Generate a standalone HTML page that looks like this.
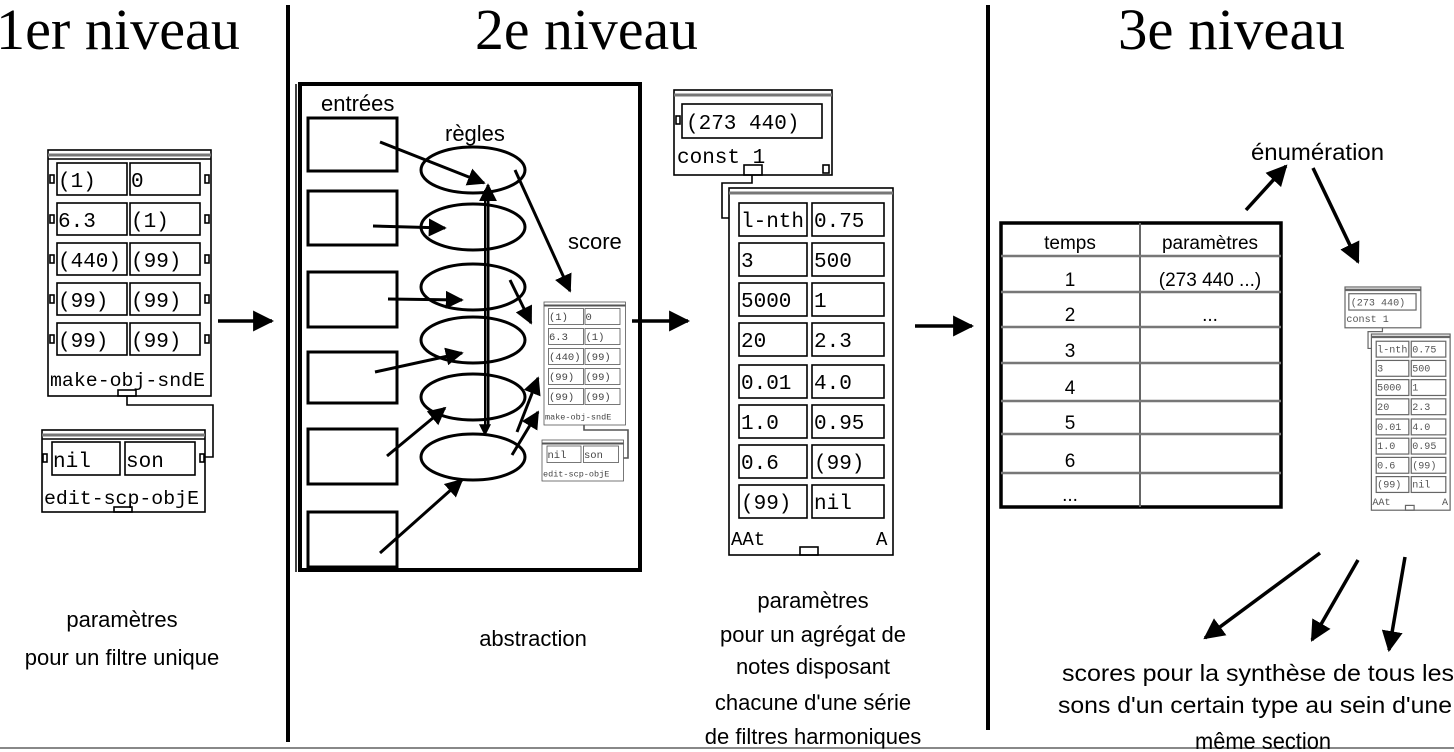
<!DOCTYPE html>
<html><head><meta charset="utf-8"><style>
html,body{margin:0;padding:0;background:#fff}
svg{display:block}
.m{font-family:"Liberation Mono",monospace;font-size:21px}
.s{font-family:"Liberation Sans","DejaVu Sans",sans-serif}
.t{font-family:"Liberation Serif",serif;font-size:58px}
</style></head><body>
<svg width="1454" height="752" viewBox="0 0 1454 752" xmlns="http://www.w3.org/2000/svg">
<defs>
<marker id="ah" viewBox="0 0 10 10" refX="9" refY="5" markerWidth="6" markerHeight="6" orient="auto" markerUnits="strokeWidth"><path d="M0,0 L10,5 L0,10 z" fill="#000"/></marker>
</defs>
<rect width="1454" height="752" fill="#fff"/>
<text x="-4" y="49" class="t" textLength="244" lengthAdjust="spacingAndGlyphs">1er niveau</text>
<text x="475" y="49" class="t" textLength="223" lengthAdjust="spacingAndGlyphs">2e niveau</text>
<text x="1118" y="49" class="t" textLength="227" lengthAdjust="spacingAndGlyphs">3e niveau</text>
<line x1="288" y1="5" x2="288" y2="742" stroke="#000" stroke-width="4"/>
<line x1="988" y1="5" x2="988" y2="730" stroke="#000" stroke-width="4"/>
<line x1="0" y1="748" x2="1454" y2="748" stroke="#888" stroke-width="2"/>

<g fill="none" stroke="#000" stroke-width="1.6">
 <g transform="translate(48,150)">
  <rect x="0" y="0" width="163" height="246" fill="#fff"/>
  <line x1="0" y1="5" x2="163" y2="5" stroke="#777" stroke-width="3"/>
  <line x1="0" y1="9" x2="163" y2="9"/>
  <rect x="9" y="13" width="70" height="32"/><rect x="82" y="13" width="70" height="32"/>
  <rect x="9" y="53" width="70" height="32"/><rect x="82" y="53" width="70" height="32"/>
  <rect x="9" y="93" width="70" height="32"/><rect x="82" y="93" width="70" height="32"/>
  <rect x="9" y="133" width="70" height="32"/><rect x="82" y="133" width="70" height="32"/>
  <rect x="9" y="173" width="70" height="32"/><rect x="82" y="173" width="70" height="32"/>
  <rect x="2" y="25" width="4" height="8"/><rect x="157" y="25" width="4" height="8"/>
  <rect x="2" y="65" width="4" height="8"/><rect x="157" y="65" width="4" height="8"/>
  <rect x="2" y="105" width="4" height="8"/><rect x="157" y="105" width="4" height="8"/>
  <rect x="2" y="145" width="4" height="8"/><rect x="157" y="145" width="4" height="8"/>
  <rect x="2" y="185" width="4" height="8"/><rect x="157" y="185" width="4" height="8"/>
  <rect x="70" y="240" width="18" height="6"/>
  <g class="m" fill="#000" stroke="none">
   <text x="10" y="37">(1)</text><text x="83" y="37">0</text>
   <text x="10" y="77">6.3</text><text x="83" y="77">(1)</text>
   <text x="10" y="117">(440)</text><text x="83" y="117">(99)</text>
   <text x="10" y="157">(99)</text><text x="83" y="157">(99)</text>
   <text x="10" y="197">(99)</text><text x="83" y="197">(99)</text>
   <text x="2" y="236" font-size="19" textLength="155" lengthAdjust="spacingAndGlyphs">make-obj-sndE</text>
  </g>
 </g>
 <polyline points="127,396 127,405 213,405 213,457 205,457"/>
 <g transform="translate(42,430)">
  <rect x="0" y="0" width="163" height="82" fill="#fff"/>
  <line x1="0" y1="5" x2="163" y2="5" stroke="#777" stroke-width="3"/>
  <line x1="0" y1="9" x2="163" y2="9"/>
  <rect x="10" y="12" width="68" height="33"/><rect x="83" y="12" width="70" height="33"/>
  <rect x="1" y="24" width="4" height="8"/><rect x="158" y="24" width="4" height="8"/>
  <rect x="72" y="77" width="18" height="5"/>
  <g class="m" fill="#000" stroke="none">
   <text x="11" y="37">nil</text><text x="84" y="37">son</text>
   <text x="2" y="74" font-size="19" textLength="155" lengthAdjust="spacingAndGlyphs">edit-scp-objE</text>
  </g>
 </g>
</g>
<line x1="218" y1="321" x2="272" y2="321" stroke="#000" stroke-width="3.5" marker-end="url(#ah)"/>
<g class="s" font-size="22" text-anchor="middle" fill="#000">
 <text x="122" y="627">paramètres</text>
 <text x="122" y="665">pour un filtre unique</text>
</g>

<rect x="300" y="84" width="340" height="486" fill="none" stroke="#000" stroke-width="4"/>
<line x1="296" y1="84" x2="296" y2="572" stroke="#000" stroke-width="1.5"/>
<g fill="#fff" stroke="#000" stroke-width="3">
 <rect x="308" y="118" width="89" height="53"/>
 <rect x="308" y="191" width="89" height="54"/>
 <rect x="308" y="272" width="89" height="55"/>
 <rect x="308" y="352" width="89" height="51"/>
 <rect x="308" y="429" width="89" height="55"/>
 <rect x="308" y="512" width="89" height="55"/>
 <ellipse cx="473" cy="170" rx="52" ry="23"/>
 <ellipse cx="473" cy="227" rx="52" ry="23"/>
 <ellipse cx="473" cy="287" rx="52" ry="23"/>
 <ellipse cx="473" cy="340" rx="52" ry="23"/>
 <ellipse cx="473" cy="397" rx="52" ry="23"/>
 <ellipse cx="473" cy="457" rx="52" ry="23"/>
</g>
<g stroke="#000" stroke-width="3" fill="none">
 <line x1="488" y1="425" x2="488" y2="185" marker-end="url(#ah)"/>
 <line x1="485" y1="190" x2="485" y2="435" marker-end="url(#ah)" stroke-width="2"/>
 <line x1="380" y1="142" x2="484" y2="183" marker-end="url(#ah)"/>
 <line x1="373" y1="226" x2="445" y2="228" marker-end="url(#ah)"/>
 <line x1="388" y1="299" x2="462" y2="300" marker-end="url(#ah)"/>
 <line x1="375" y1="372" x2="462" y2="353" marker-end="url(#ah)"/>
 <line x1="387" y1="456" x2="445" y2="408" marker-end="url(#ah)"/>
 <line x1="380" y1="553" x2="462" y2="480" marker-end="url(#ah)"/>
 <line x1="515" y1="170" x2="570" y2="291" marker-end="url(#ah)"/>
 <line x1="510" y1="280" x2="531" y2="323" marker-end="url(#ah)"/>
 <line x1="517" y1="432" x2="538" y2="378" marker-end="url(#ah)"/>
 <line x1="512" y1="455" x2="538" y2="412" marker-end="url(#ah)"/>
</g>
<g class="s" fill="#000" font-size="22">
 <text x="321" y="111">entrées</text>
 <text x="445" y="141">règles</text>
 <text x="568" y="249">score</text>
 <text x="533" y="646" text-anchor="middle">abstraction</text>
</g>
<g fill="none" stroke="#555" stroke-width="1.6">
 <g transform="translate(544,302) scale(0.5)">
  <rect x="0" y="0" width="163" height="246" fill="#fff"/>
  <line x1="0" y1="7" x2="163" y2="7" stroke-width="4"/>
  <rect x="9" y="13" width="70" height="32"/><rect x="82" y="13" width="70" height="32"/>
  <rect x="9" y="53" width="70" height="32"/><rect x="82" y="53" width="70" height="32"/>
  <rect x="9" y="93" width="70" height="32"/><rect x="82" y="93" width="70" height="32"/>
  <rect x="9" y="133" width="70" height="32"/><rect x="82" y="133" width="70" height="32"/>
  <rect x="9" y="173" width="70" height="32"/><rect x="82" y="173" width="70" height="32"/>
  <g class="m" fill="#444" stroke="none">
   <text x="10" y="36">(1)</text><text x="83" y="36">0</text>
   <text x="10" y="76">6.3</text><text x="83" y="76">(1)</text>
   <text x="10" y="116">(440)</text><text x="83" y="116">(99)</text>
   <text x="10" y="156">(99)</text><text x="83" y="156">(99)</text>
   <text x="10" y="196">(99)</text><text x="83" y="196">(99)</text>
   <text x="2" y="235" font-size="17">make-obj-sndE</text>
  </g>
 </g>
 <polyline points="584,425 584,430 628,430 628,458 623,458"/>
 <g transform="translate(542,440) scale(0.5)">
  <rect x="0" y="0" width="163" height="82" fill="#fff"/>
  <line x1="0" y1="7" x2="163" y2="7" stroke-width="4"/>
  <rect x="10" y="12" width="68" height="33"/><rect x="83" y="12" width="70" height="33"/>
  <g class="m" fill="#444" stroke="none">
   <text x="11" y="36">nil</text><text x="84" y="36">son</text>
   <text x="2" y="73" font-size="17">edit-scp-objE</text>
  </g>
 </g>
</g>
<line x1="632" y1="321" x2="688" y2="321" stroke="#000" stroke-width="3.5" marker-end="url(#ah)"/>

<g fill="none" stroke="#000" stroke-width="1.6">
 <rect x="674" y="90" width="158" height="85" fill="#fff"/>
 <line x1="674" y1="95" x2="832" y2="95" stroke="#777" stroke-width="3"/>
 <rect x="682" y="104" width="140" height="34"/>
 <rect x="676" y="116" width="4" height="8"/>
 <rect x="823" y="165" width="6" height="8"/>
 <rect x="744" y="165" width="18" height="10"/>
 <text x="677" y="163" class="m" fill="#000" stroke="none">const 1</text>
 <polyline points="752,175 752,183 722,183 722,218 730,218"/>
 <rect x="729" y="188" width="164" height="367" fill="#fff"/>
 <line x1="729" y1="193" x2="893" y2="193" stroke="#777" stroke-width="3"/>
 <rect x="739" y="203" width="68" height="33"/><rect x="812" y="203" width="72" height="33"/>
 <rect x="739" y="243" width="68" height="33"/><rect x="812" y="243" width="72" height="33"/>
 <rect x="739" y="283" width="68" height="33"/><rect x="812" y="283" width="72" height="33"/>
 <rect x="739" y="323" width="68" height="33"/><rect x="812" y="323" width="72" height="33"/>
 <rect x="739" y="365" width="68" height="33"/><rect x="812" y="365" width="72" height="33"/>
 <rect x="739" y="405" width="68" height="33"/><rect x="812" y="405" width="72" height="33"/>
 <rect x="739" y="445" width="68" height="33"/><rect x="812" y="445" width="72" height="33"/>
 <rect x="739" y="485" width="68" height="33"/><rect x="812" y="485" width="72" height="33"/>
 <rect x="800" y="547" width="18" height="8"/>
 <g class="m" fill="#000" stroke="none" font-size="21">
  <text x="741" y="227">l-nth</text><text x="814" y="227">0.75</text>
  <text x="741" y="267">3</text><text x="814" y="267">500</text>
  <text x="741" y="307">5000</text><text x="814" y="307">1</text>
  <text x="741" y="347">20</text><text x="814" y="347">2.3</text>
  <text x="741" y="389">0.01</text><text x="814" y="389">4.0</text>
  <text x="741" y="429">1.0</text><text x="814" y="429">0.95</text>
  <text x="741" y="469">0.6</text><text x="814" y="469">(99)</text>
  <text x="741" y="509">(99)</text><text x="814" y="509">nil</text>
  <text x="731" y="545" font-size="19">AAt</text><text x="876" y="545" font-size="19">A</text>
  <text x="686" y="129">(273 440)</text>
 </g>
</g>
<g class="s" font-size="22" text-anchor="middle" fill="#000">
 <text x="813" y="608">paramètres</text>
 <text x="813" y="642">pour un agrégat de</text>
 <text x="813" y="674">notes disposant</text>
 <text x="813" y="710">chacune d'une série</text>
 <text x="813" y="744">de filtres harmoniques</text>
</g>
<line x1="915" y1="326" x2="972" y2="326" stroke="#000" stroke-width="3.5" marker-end="url(#ah)"/>

<g stroke="#000" fill="none">
 <rect x="1001" y="223" width="280" height="284" stroke-width="3.5"/>
 <line x1="1140" y1="223" x2="1140" y2="507" stroke="#666" stroke-width="2"/>
 <g stroke="#777" stroke-width="2.5">
  <line x1="1001" y1="256" x2="1281" y2="256"/>
  <line x1="1001" y1="292" x2="1281" y2="292"/>
  <line x1="1001" y1="327" x2="1281" y2="327"/>
  <line x1="1001" y1="363" x2="1281" y2="363"/>
  <line x1="1001" y1="401" x2="1281" y2="401"/>
  <line x1="1001" y1="434" x2="1281" y2="434"/>
  <line x1="1001" y1="473" x2="1281" y2="473"/>
 </g>
</g>
<g class="s" font-size="19" text-anchor="middle" fill="#000">
 <text x="1070" y="249">temps</text><text x="1210" y="249">paramètres</text>
 <text x="1070" y="286">1</text><text x="1210" y="286">(273 440 ...)</text>
 <text x="1070" y="321">2</text><text x="1210" y="321">...</text>
 <text x="1070" y="357">3</text>
 <text x="1070" y="394">4</text>
 <text x="1070" y="429">5</text>
 <text x="1070" y="467">6</text>
 <text x="1070" y="501">...</text>
</g>
<text x="1251" y="160" class="s" font-size="23" textLength="133" lengthAdjust="spacingAndGlyphs">énumération</text>
<g stroke="#000" stroke-width="3.5" fill="none">
 <line x1="1246" y1="210" x2="1286" y2="166" marker-end="url(#ah)"/>
 <line x1="1313" y1="168" x2="1358" y2="262" marker-end="url(#ah)"/>
 <line x1="1320" y1="553" x2="1205" y2="638" marker-end="url(#ah)"/>
 <line x1="1358" y1="560" x2="1312" y2="640" marker-end="url(#ah)"/>
 <line x1="1405" y1="557" x2="1389" y2="650" marker-end="url(#ah)"/>
</g>
<g transform="translate(1345,287) scale(0.48) translate(-674,-90)" fill="none" stroke="#666" stroke-width="2.5">
 <rect x="674" y="90" width="158" height="85" fill="#fff"/>
 <line x1="674" y1="96" x2="832" y2="96" stroke-width="5"/>
 <rect x="682" y="104" width="140" height="34"/>
 <text x="677" y="163" class="m" fill="#555" stroke="none">const 1</text>
 <polyline points="752,175 752,183 722,183 722,218 730,218"/>
 <rect x="729" y="188" width="164" height="367" fill="#fff"/>
 <line x1="729" y1="194" x2="893" y2="194" stroke-width="5"/>
 <rect x="739" y="203" width="68" height="33"/><rect x="812" y="203" width="72" height="33"/>
 <rect x="739" y="243" width="68" height="33"/><rect x="812" y="243" width="72" height="33"/>
 <rect x="739" y="283" width="68" height="33"/><rect x="812" y="283" width="72" height="33"/>
 <rect x="739" y="323" width="68" height="33"/><rect x="812" y="323" width="72" height="33"/>
 <rect x="739" y="365" width="68" height="33"/><rect x="812" y="365" width="72" height="33"/>
 <rect x="739" y="405" width="68" height="33"/><rect x="812" y="405" width="72" height="33"/>
 <rect x="739" y="445" width="68" height="33"/><rect x="812" y="445" width="72" height="33"/>
 <rect x="739" y="485" width="68" height="33"/><rect x="812" y="485" width="72" height="33"/>
 <rect x="800" y="545" width="18" height="10"/>
 <g class="m" fill="#555" stroke="none" font-size="20">
  <text x="741" y="226">l-nth</text><text x="814" y="226">0.75</text>
  <text x="741" y="266">3</text><text x="814" y="266">500</text>
  <text x="741" y="306">5000</text><text x="814" y="306">1</text>
  <text x="741" y="346">20</text><text x="814" y="346">2.3</text>
  <text x="741" y="388">0.01</text><text x="814" y="388">4.0</text>
  <text x="741" y="428">1.0</text><text x="814" y="428">0.95</text>
  <text x="741" y="468">0.6</text><text x="814" y="468">(99)</text>
  <text x="741" y="508">(99)</text><text x="814" y="508">nil</text>
  <text x="731" y="544">AAt</text><text x="876" y="544">A</text>
  <text x="686" y="129">(273 440)</text>
 </g>
</g>
<g class="s" font-size="23" fill="#000">
 <text x="1062" y="681" textLength="392" lengthAdjust="spacingAndGlyphs">scores pour la synthèse de tous les</text>
 <text x="1058" y="713" textLength="394" lengthAdjust="spacingAndGlyphs">sons d'un certain type au sein d'une</text>
 <text x="1195" y="749" textLength="136" lengthAdjust="spacingAndGlyphs">même section</text>
</g>
</svg>
</body></html>
